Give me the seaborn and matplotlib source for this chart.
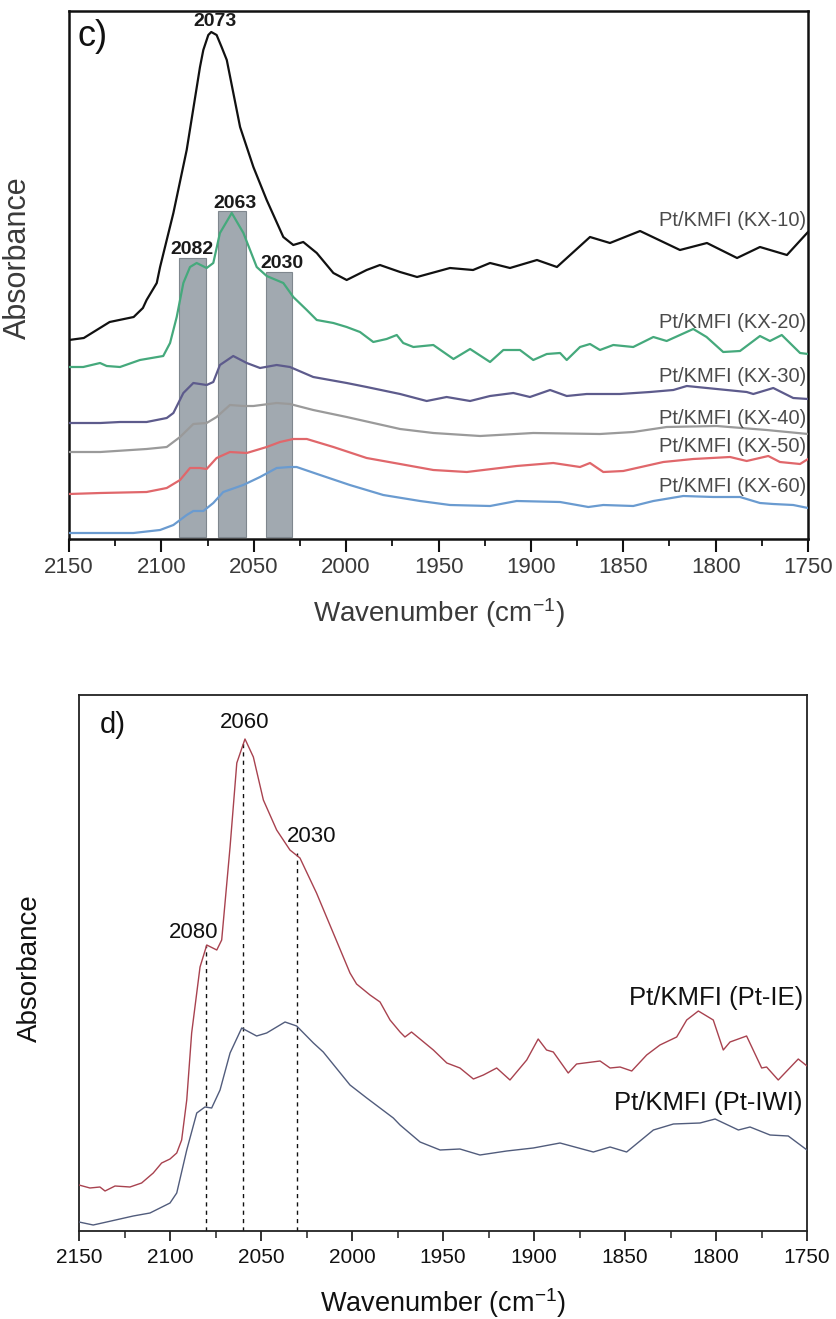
import matplotlib
matplotlib.use("Agg")
import matplotlib.pyplot as plt
import seaborn as sns
from matplotlib.ticker import MultipleLocator

# ---------------- Panel c data (wavenumber, absorbance a.u. incl. offset) ----------------
wn_kx10 = [2150, 2142, 2128, 2115, 2110, 2108, 2102.5, 2100.7, 2093.5, 2086.3,
           2079.1, 2077.3, 2074.6, 2073, 2070.1, 2067.4, 2064.6, 2057.4, 2050.2, 2043.0,
           2034.0, 2028.6, 2023.2, 2015.9, 2006.9, 1999.7, 1988.9, 1981.7, 1970.8, 1961.6,
           1943.8, 1931.3, 1922.1, 1911.3, 1896.7, 1885.9, 1868.0, 1857.2, 1840.9, 1819.3,
           1804.7, 1788.4, 1776.0, 1761.4, 1750]
ab_kx10 = [199, 201, 217, 222, 231, 239, 256, 272, 326, 389,
           472, 489, 504, 507, 504, 492, 479, 412, 372, 339,
           302, 294, 297, 286, 266, 259, 269, 274, 267, 262,
           271, 269, 276, 271, 279, 272, 302, 296, 308, 289,
           296, 281, 292, 284, 307]

wn_kx20 = [2150, 2142.3, 2133.2, 2129.6, 2122.4, 2111.6, 2099, 2095.3, 2091.7, 2088.1,
           2084.5, 2080.9, 2075.5, 2071.9, 2068.3, 2061.9, 2055.6, 2048.4, 2043, 2034,
           2028.6, 2021.3, 2015.9, 2006.9, 1999.7, 1992.5, 1985.3, 1978.1, 1972.6, 1969.1,
           1963.6, 1952.8, 1941.9, 1932.9, 1922.1, 1914.9, 1905.9, 1898.7, 1891.4, 1884.2,
           1880.6, 1873.4, 1868, 1862.6, 1855.4, 1844.6, 1833.7, 1826.5, 1812.1, 1804.9,
           1795.9, 1786.8, 1776, 1770.6, 1764.2, 1754.3, 1750]
ab_kx20 = [172, 172, 176, 173, 172, 179, 183, 196, 222, 256,
           272, 276, 271, 276, 306, 326, 306, 272, 263, 256,
           242, 229, 219, 216, 212, 207, 197, 200, 204, 196,
           192, 194, 180, 190, 177, 189, 189, 179, 185, 186,
           179, 192, 195, 189, 194, 192, 202, 198, 210, 202,
           187, 188, 203, 198, 204, 186, 185]

wn_kx30 = [2150, 2133, 2122.4, 2108, 2097.1, 2093.5, 2088.1, 2082.7, 2075.5, 2071.9,
           2068.3, 2061.1, 2053.8, 2046.6, 2037.6, 2030.4, 2017.8, 1999.7, 1988.9, 1970.8,
           1956.4, 1945.6, 1932.9, 1922.1, 1909.5, 1900.5, 1889.6, 1880.6, 1869.8, 1851.8,
           1835.5, 1822.9, 1815.6, 1799.4, 1783.2, 1779.6, 1768.8, 1758, 1750]
ab_kx30 = [116, 116, 117, 117, 121, 126, 146, 156, 154, 157,
           174, 183, 176, 171, 174, 172, 162, 156, 152, 145,
           138, 142, 138, 143, 146, 142, 149, 143, 145, 145,
           147, 149, 153, 150, 147, 145, 151, 141, 140]

wn_kx40 = [2150, 2133, 2108, 2097.1, 2089.9, 2082.7, 2075.5, 2070.1, 2062.9, 2055.6,
           2050.2, 2037.6, 2030.4, 2017.8, 1999.7, 1970.8, 1952.8, 1927.5, 1898.7, 1862.6,
           1844.6, 1826.5, 1799.4, 1772.4, 1750]
ab_kx40 = [87, 87, 90, 92, 102, 115, 116, 122, 134, 133,
           133, 136, 135, 129, 122, 110, 106, 103, 106, 105,
           107, 112, 113, 109, 105]

wn_kx50 = [2150, 2133, 2108, 2097.1, 2089.9, 2084.5, 2079.1, 2075.5, 2070.1, 2062.9,
           2053.8, 2043, 2035.8, 2028.6, 2021.3, 2006.9, 1988.9, 1970.8, 1952.8, 1934.7,
           1907.7, 1887.9, 1873.4, 1868, 1860.8, 1850, 1828.3, 1812.1, 1792.2, 1783.2,
           1771.5, 1765.2, 1754.3, 1750]
ab_kx50 = [45, 46, 47, 51, 59, 71, 71, 70, 81, 87,
           86, 92, 97, 100, 100, 92, 81, 75, 69, 67,
           73, 76, 72, 76, 67, 68, 77, 80, 82, 78,
           83, 77, 75, 80]

wn_kx60 = [2150, 2115.2, 2100.7, 2093.5, 2086.3, 2082.7, 2077.3, 2071.9, 2066.5, 2055.7,
           2046.6, 2037.6, 2030.4, 2026.8, 2014.1, 1998, 1979.9, 1960, 1943.8, 1922.1,
           1907.7, 1884.2, 1868.9, 1860.8, 1844.6, 1833.7, 1817.5, 1801.3, 1786.8, 1776,
           1768.8, 1758, 1750]
ab_kx60 = [6, 6, 9, 14, 24, 28, 28, 36, 47, 54,
           62, 71, 72, 72, 64, 54, 44, 38, 34, 33,
           38, 37, 32, 34, 33, 38, 43, 42, 42, 36,
           35, 34, 31]

series_c_names = ["Pt/KMFI (KX-10)", "Pt/KMFI (KX-20)", "Pt/KMFI (KX-30)",
                  "Pt/KMFI (KX-40)", "Pt/KMFI (KX-50)", "Pt/KMFI (KX-60)"]

# shaded bands (peak regions) in panel c
band_centers = [2083.15, 2061.8, 2036.25]
band_widths = [14.3, 14.8, 14.3]
band_tops = [281.5, 328, 267.3]
band_bottom = 2.3

peak_labels_c = ["2073", "2082", "2063", "2030"]
peak_pos_c = [2071, 2083.6, 2060.2, 2034.5]
peak_h_c = [509, 281, 327, 267]

# ---------------- Panel d data ----------------
wn_ie = [2150, 2144, 2138.5, 2135.7, 2130.2, 2122, 2115.6, 2109.2, 2104.6, 2100,
         2096.3, 2093.6, 2090.8, 2088.1, 2083.5, 2079.8, 2074.3, 2071.6, 2067, 2063.3,
         2058.8, 2054.2, 2048.7, 2041.4, 2034.1, 2028.6, 2019.5, 2010.3, 2001.1, 1997.5,
         1990.1, 1984.6, 1979.1, 1973.6, 1970.9, 1967.3, 1955.3, 1947.9, 1940.7, 1933.3,
         1927.8, 1920.5, 1913.2, 1904, 1897.7, 1893.1, 1889.4, 1881.2, 1876.6, 1863.7,
         1858.2, 1852.7, 1846.3, 1838.1, 1830.8, 1821.6, 1816.1, 1809.7, 1801.5, 1796,
         1792.3, 1783.2, 1774.9, 1772.2, 1765.8, 1754.8, 1750]
ab_ie = [46, 43, 44, 40, 45, 44, 48, 58, 68, 72,
         78, 91, 131, 198, 264, 286, 281, 291, 384, 468,
         492, 474, 431, 401, 381, 373, 338, 298, 258, 247,
         236, 229, 211, 199, 194, 199, 181, 168, 163, 152,
         156, 163, 151, 171, 192, 181, 179, 158, 167, 170,
         163, 164, 160, 176, 186, 194, 211, 220, 211, 181,
         189, 195, 163, 164, 151, 172, 165]

wn_iwi = [2150, 2142.2, 2134.8, 2120.2, 2111, 2100, 2096.3, 2090.8, 2085.3, 2080.8,
          2077.1, 2072.5, 2067, 2060.6, 2052.4, 2046.9, 2036.8, 2030.4, 2021.2, 2015.8,
          2001.1, 1991.9, 1977.3, 1973.6, 1962.6, 1951.6, 1940.7, 1929.7, 1915, 1900.4,
          1885.7, 1867.4, 1858.2, 1849.1, 1834.4, 1823.4, 1808.8, 1800.5, 1787.7, 1781.3,
          1770.3, 1760.3, 1750]
ab_iwi = [9, 6, 9, 15, 18, 28, 38, 81, 118, 124,
          123, 141, 178, 203, 195, 198, 209, 205, 188, 179,
          146, 133, 113, 106, 89, 81, 82, 76, 80, 83,
          88, 79, 84, 79, 101, 107, 108, 112, 101, 104,
          96, 95, 81]

series_d_names = ["Pt/KMFI (Pt-IE)", "Pt/KMFI (Pt-IWI)"]

peak_labels_d = ["2080", "2060", "2030"]
peak_pos_d = [2080, 2060, 2030]
peak_h_d = [286, 491, 378]
peak_label_x_d = [2087.2, 2058.8, 2022]
peak_label_y_d = [288, 498, 384]

xticks = [2150, 2100, 2050, 2000, 1950, 1900, 1850, 1800, 1750]

# ---------------- style ----------------
sns.set_theme(style="ticks")
plt.rcParams["font.family"] = ["Liberation Sans", "DejaVu Sans"]
plt.rcParams["mathtext.default"] = "regular"

fig = plt.figure(figsize=(8.37, 13.19), dpi=100)
axc = fig.add_axes([69 / 837, 1 - 539 / 1319, 739 / 837, 528 / 1319])
axd = fig.add_axes([79 / 837, 1 - 1231 / 1319, 728 / 837, 536 / 1319])

# ---------------- panel c ----------------
axc.bar(band_centers, [t - band_bottom for t in band_tops], bottom=band_bottom,
        width=band_widths, color="#a1a9b0", edgecolor="#7f878e", linewidth=0.8, zorder=1)

c_data = [(wn_kx10, ab_kx10, "#111111"), (wn_kx20, ab_kx20, "#45a97c"),
          (wn_kx30, ab_kx30, "#5d5b8c"), (wn_kx40, ab_kx40, "#9a9a9a"),
          (wn_kx50, ab_kx50, "#e0676b"), (wn_kx60, ab_kx60, "#6a9bd0")]
for wn, ab, col in c_data:
    sns.lineplot(x=wn, y=ab, ax=axc, color=col, linewidth=1.6,
                 estimator=None, sort=False, legend=False, zorder=3)

label_y_c = [319, 217, 162, 121, 92, 52]
for name, ly in zip(series_c_names, label_y_c):
    axc.text(0.998, ly, name, transform=axc.get_yaxis_transform(), ha="right",
             va="center", fontsize=14.5, color="#4a4a4a")

for lab, px, ph in zip(peak_labels_c, peak_pos_c, peak_h_c):
    axc.text(px, ph, lab, ha="center", va="bottom", fontsize=14, fontweight="bold",
             color="#1a1a1a", zorder=5)

axc.text(0.012, 0.985, "c)", transform=axc.transAxes, ha="left", va="top",
         fontsize=26, color="#111111")

axc.set_xlim(2150, 1750)
axc.set_ylim(0, 528)
axc.set_xticks(xticks)
axc.xaxis.set_minor_locator(MultipleLocator(25))
axc.set_yticks([])
axc.tick_params(axis="x", which="major", direction="out", length=9, width=1.5,
                labelsize=16, labelcolor="#3a3a3a", pad=4, color="#111111")
axc.tick_params(axis="x", which="minor", direction="out", length=5, width=1.3,
                color="#111111")
for s in axc.spines.values():
    s.set_visible(True)
    s.set_linewidth(1.8)
    s.set_color("#111111")
axc.set_xlabel(r"Wavenumber (cm$^{-1}$)", fontsize=20, color="#3a3a3a")
axc.set_ylabel("Absorbance", fontsize=22, color="#3a3a3a")
axc.xaxis.set_label_coords(0.5, -0.108)
axc.yaxis.set_label_coords(-0.049, 0.533)

# ---------------- panel d ----------------
d_data = [(wn_ie, ab_ie, "#a8424f"), (wn_iwi, ab_iwi, "#515c7c")]
for wn, ab, col in d_data:
    sns.lineplot(x=wn, y=ab, ax=axd, color=col, linewidth=1.0,
                 estimator=None, sort=False, legend=False, zorder=3)

axd.vlines(peak_pos_d, 0, peak_h_d, colors="#111111", linestyles=(0, (3, 3)),
           linewidth=1.0, zorder=2)
for lab, lx, ly in zip(peak_labels_d, peak_label_x_d, peak_label_y_d):
    axd.text(lx, ly, lab, ha="center", va="bottom", fontsize=16, color="#111111")

label_y_d = [233, 128]
for name, ly in zip(series_d_names, label_y_d):
    axd.text(0.9945, ly, name, transform=axd.get_yaxis_transform(), ha="right",
             va="center", fontsize=18.5, color="#111111")

axd.text(0.029, 0.97, "d)", transform=axd.transAxes, ha="left", va="top",
         fontsize=21, color="#111111")

axd.set_xlim(2150, 1750)
axd.set_ylim(0, 536)
axd.set_xticks(xticks)
axd.xaxis.set_minor_locator(MultipleLocator(25))
axd.set_yticks([])
axd.tick_params(axis="x", which="major", direction="out", length=7, width=1.3,
                labelsize=15, labelcolor="#111111", pad=5, color="#222222")
axd.tick_params(axis="x", which="minor", direction="out", length=5, width=1.1,
                color="#222222")
for s in axd.spines.values():
    s.set_visible(True)
    s.set_linewidth(1.3)
    s.set_color("#222222")
axd.set_xlabel(r"Wavenumber (cm$^{-1}$)", fontsize=19.5, color="#111111")
axd.set_ylabel("Absorbance", fontsize=20, color="#111111")
axd.xaxis.set_label_coords(0.5, -0.103)
axd.yaxis.set_label_coords(-0.05, 0.49)

fig.savefig("out.png", dpi=100)
